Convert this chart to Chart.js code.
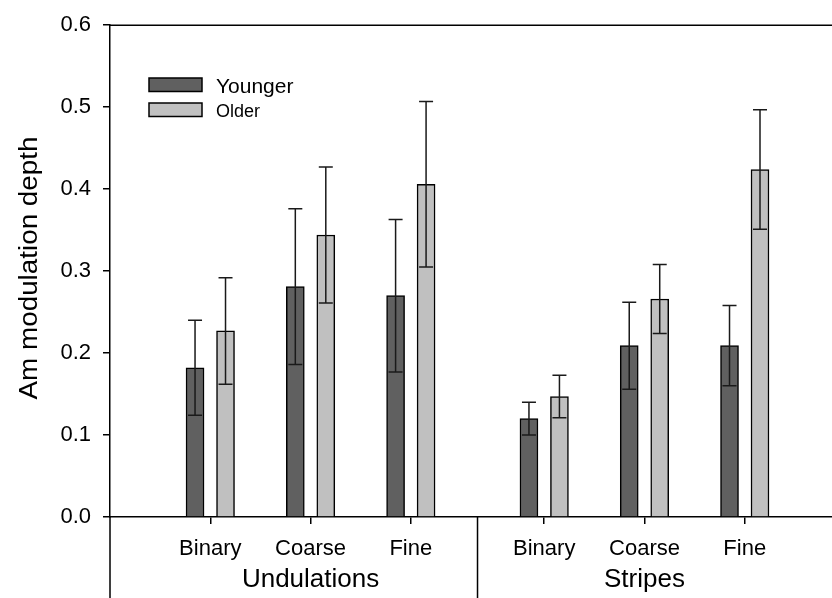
<!DOCTYPE html>
<html>
<head>
<meta charset="utf-8">
<script src="https://cdn.jsdelivr.net/npm/chart.js@4.4.1/dist/chart.umd.min.js"></script>
<style>
  html, body { margin: 0; padding: 0; background: #fff; }
  #wrap { width: 832px; height: 598px; position: relative; }
</style>
</head>
<body>
<div id="wrap"><canvas id="amChart"></canvas></div>
<script>
// categories and groups
const categories = ['Binary', 'Coarse', 'Fine', 'Binary', 'Coarse', 'Fine'];
const groupNames = ['Undulations', 'Stripes'];
const groupOf = [0, 0, 0, 1, 1, 1];

// bar heights + error bar half-lengths
const youngerMean = [0.182, 0.281, 0.270, 0.120, 0.209, 0.209];
const youngerErr  = [0.058, 0.095, 0.093, 0.020, 0.053, 0.049];
const olderMean   = [0.227, 0.344, 0.406, 0.147, 0.266, 0.424];
const olderErr    = [0.065, 0.083, 0.101, 0.026, 0.042, 0.073];

const yTicks = [0.0, 0.1, 0.2, 0.3, 0.4, 0.5, 0.6];

const FONT = "'Liberation Sans', Arial, sans-serif";
const GROUP_GAP = 0.33;   // extra space between the two groups
const BAR_SHIFT = 0.152;  // half distance between paired bars

// x position of each category on the linear axis
const catPos = categories.map((c, i) => i + 1 + groupOf[i] * GROUP_GAP);

function makeSet(label, means, errs, color, shift) {
    return {
        label: label,
        data: means.map((v, i) => ({ x: catPos[i] + shift, y: v })),
        errs: errs,
        backgroundColor: color,
        borderColor: '#000',
        borderWidth: 1.5,
        barThickness: 18,
        grouped: false
    };
}

// error bars: line from top cap down through the bar to the lower cap
const errorBars = {
    id: 'errorBars',
    afterDatasetsDraw(chart) {
        const ctx = chart.ctx;
        const yScale = chart.scales.y;
        ctx.save();
        ctx.strokeStyle = '#1a1a1a';
        ctx.lineWidth = 1.5;
        chart.data.datasets.forEach((ds, di) => {
            const meta = chart.getDatasetMeta(di);
            meta.data.forEach((bar, i) => {
                const v = ds.data[i].y, e = ds.errs[i];
                const yTop = yScale.getPixelForValue(v + e);
                const yBot = yScale.getPixelForValue(v - e);
                const x = bar.x;
                ctx.beginPath();
                ctx.moveTo(x, yTop); ctx.lineTo(x, yBot);
                ctx.moveTo(x - 7, yTop); ctx.lineTo(x + 7, yTop);
                ctx.moveTo(x - 7, yBot); ctx.lineTo(x + 7, yBot);
                ctx.stroke();
            });
        });
        ctx.restore();
    }
};

// frame pieces, group labels, legend and y title
const decorations = {
    id: 'decorations',
    afterDraw(chart) {
        const ctx = chart.ctx;
        const area = chart.chartArea;
        const xScale = chart.scales.x;
        const H = chart.height;
        ctx.save();
        ctx.strokeStyle = '#000';
        ctx.lineWidth = 1.5;

        // top line
        ctx.beginPath();
        ctx.moveTo(area.left, area.top);
        ctx.lineTo(chart.width, area.top);
        // left axis carried down below the x axis
        ctx.moveTo(area.left, area.bottom);
        ctx.lineTo(area.left, H);
        // separator between groups
        const sepX = xScale.getPixelForValue((catPos[2] + catPos[3]) / 2);
        ctx.moveTo(sepX, area.bottom);
        ctx.lineTo(sepX, H);
        ctx.stroke();

        // group labels
        ctx.fillStyle = '#000';
        ctx.font = '26px ' + FONT;
        ctx.textAlign = 'center';
        ctx.textBaseline = 'alphabetic';
        groupNames.forEach((name, g) => {
            const idx = groupOf.map((v, i) => v === g ? i : -1).filter(i => i >= 0);
            const mid = (catPos[idx[0]] + catPos[idx[idx.length - 1]]) / 2;
            ctx.fillText(name, xScale.getPixelForValue(mid), 587);
        });

        // y title
        ctx.save();
        ctx.translate(37, 268);
        ctx.rotate(-Math.PI / 2);
        ctx.scale(1.07, 1);
        ctx.font = '26px ' + FONT;
        ctx.textBaseline = 'alphabetic';
        ctx.fillText('Am modulation depth', 0, 0);
        ctx.restore();

        // legend
        const items = [
            { label: 'Younger', color: '#606060', y: 78, size: 21, base: 93 },
            { label: 'Older', color: '#c0c0c0', y: 103, size: 18, base: 116.5 }
        ];
        ctx.textAlign = 'left';
        items.forEach(it => {
            ctx.fillStyle = it.color;
            ctx.fillRect(149, it.y, 53, 13.5);
            ctx.strokeRect(149, it.y, 53, 13.5);
            ctx.fillStyle = '#000';
            ctx.font = it.size + 'px ' + FONT;
            ctx.fillText(it.label, 216, it.base);
        });
        ctx.restore();
    }
};

new Chart(document.getElementById('amChart'), {
    type: 'bar',
    data: {
        datasets: [
            makeSet('Younger', youngerMean, youngerErr, '#606060', -BAR_SHIFT),
            makeSet('Older', olderMean, olderErr, '#c0c0c0', BAR_SHIFT)
        ]
    },
    options: {
        responsive: true,
        maintainAspectRatio: false,
        animation: false,
        layout: { padding: { top: 19, right: 0, left: 0, bottom: 0 } },
        plugins: { legend: { display: false }, tooltip: { enabled: false } },
        scales: {
            x: {
                type: 'linear',
                min: 0,
                max: 7.2,
                offset: false,
                afterBuildTicks: (scale) => { scale.ticks = catPos.map(v => ({ value: v })); },
                afterFit: (scale) => { scale.height = 81; },
                grid: { offset: false, drawOnChartArea: false, drawTicks: true, tickLength: 7, color: '#000', lineWidth: 1.5 },
                border: { display: true, color: '#000', width: 1.5 },
                ticks: {
                    autoSkip: false,
                    maxRotation: 0,
                    padding: 12,
                    color: '#000',
                    font: { family: FONT, size: 22 },
                    callback: (v, i) => categories[i]
                }
            },
            y: {
                min: 0,
                max: 0.6,
                afterBuildTicks: (scale) => { scale.ticks = yTicks.map(v => ({ value: v })); },
                afterFit: (scale) => { scale.width = 110; },
                grid: { drawOnChartArea: false, drawTicks: true, tickLength: 7, color: '#000', lineWidth: 1.5 },
                border: { display: true, color: '#000', width: 1.5 },
                ticks: {
                    padding: 12,
                    color: '#000',
                    font: { family: FONT, size: 22 },
                    callback: (v) => v.toFixed(1)
                }
            }
        }
    },
    plugins: [errorBars, decorations]
});
</script>
</body>
</html>
